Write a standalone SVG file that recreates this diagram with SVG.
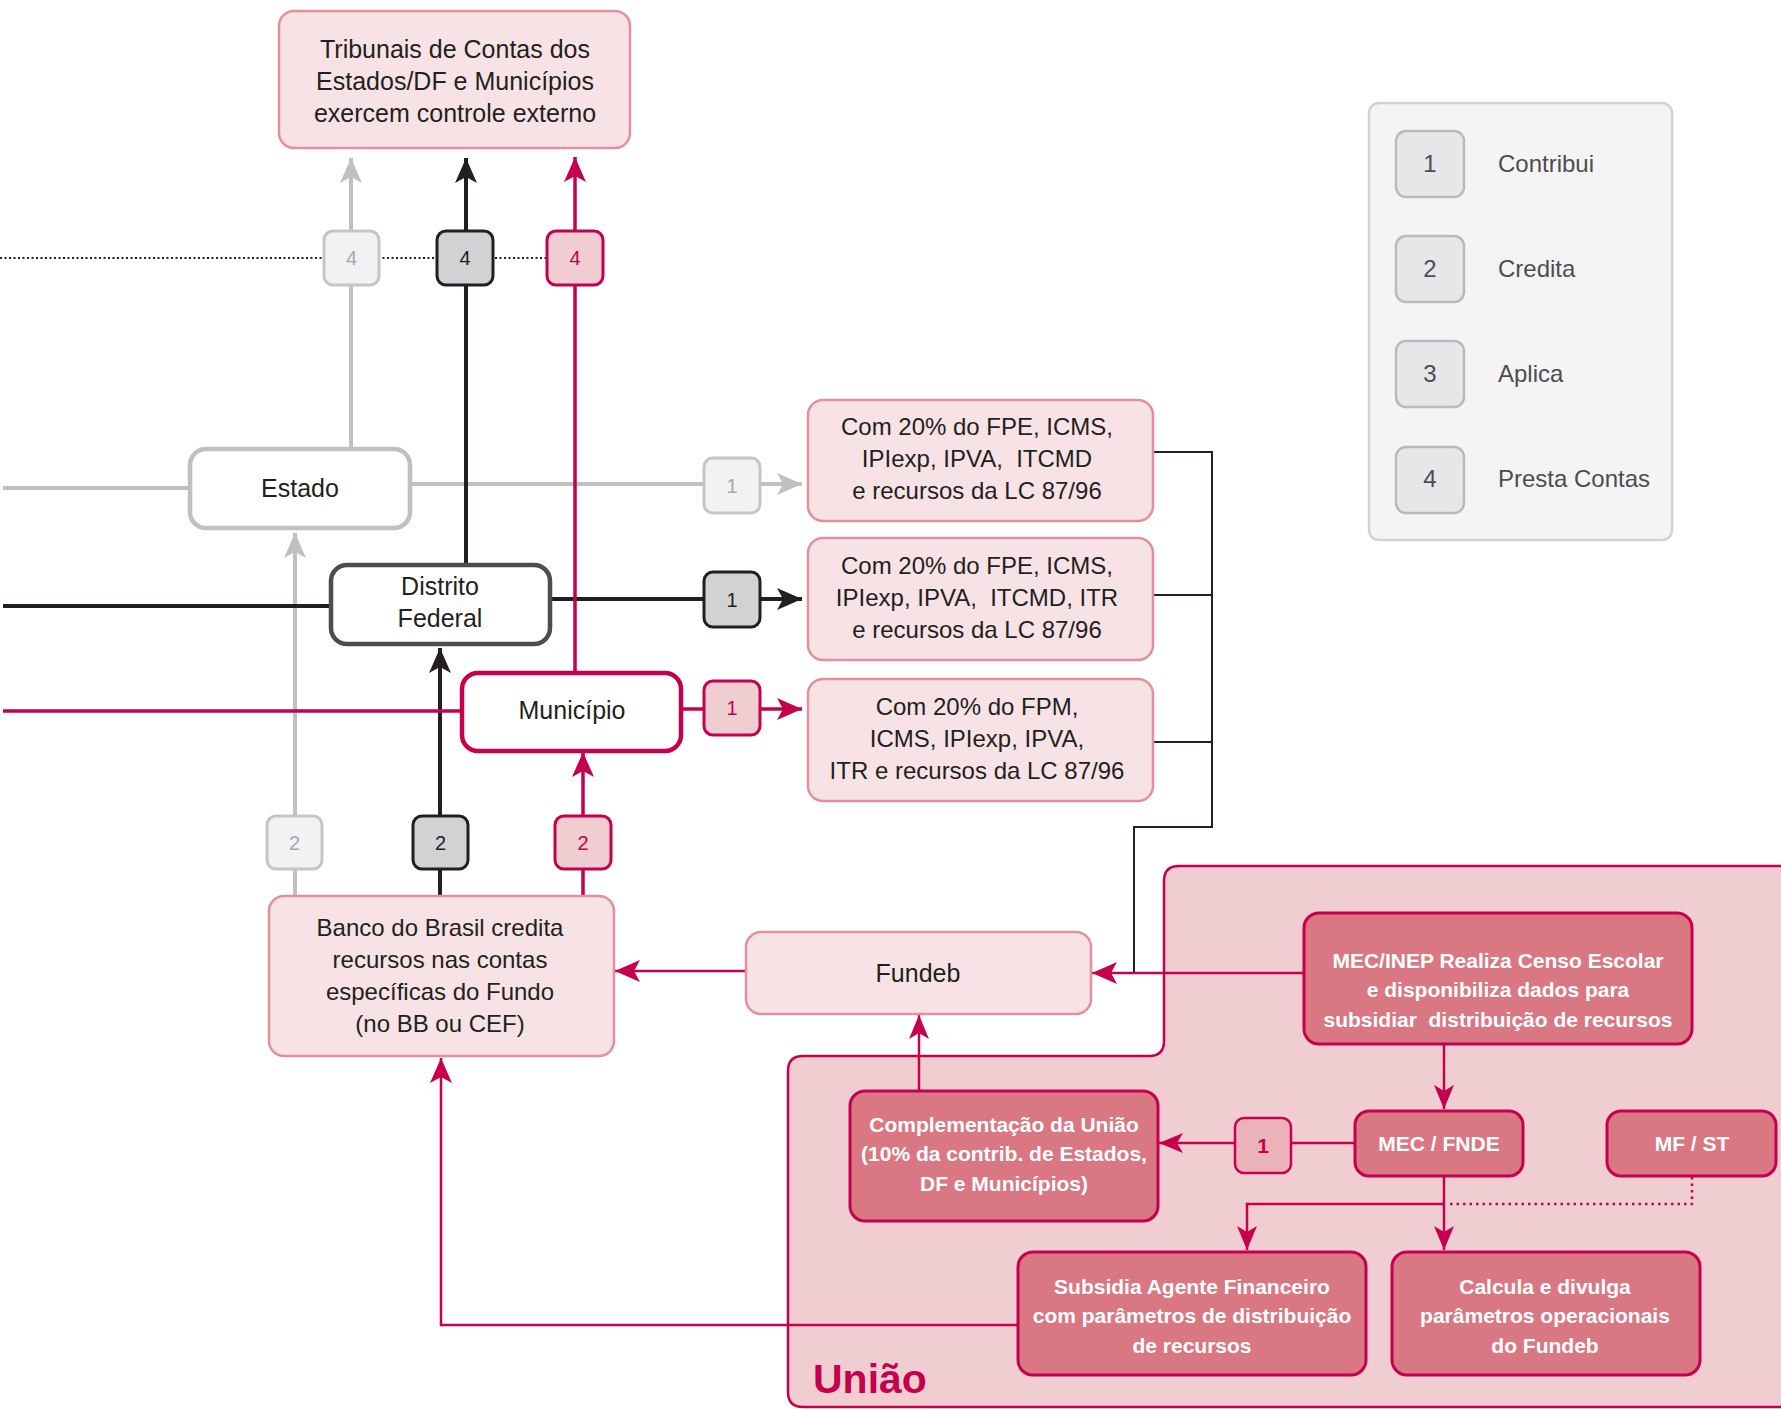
<svg xmlns="http://www.w3.org/2000/svg" width="1781" height="1409" viewBox="0 0 1781 1409">
<defs>
<style>
text{font-family:"Liberation Sans",Arial,sans-serif;white-space:pre;text-anchor:middle;fill:#231f20}
.t{font-size:24px}
.tb{font-size:25px}
.w{font-size:21px;font-weight:bold;fill:#ffffff}
.lbox{fill:#f7e3e5;stroke:#e3909a;stroke-width:2.5}
.dbox{fill:#d97783;stroke:#c5004e;stroke-width:3}
.bg{fill:#f1f2f3;stroke:#c4c5c7;stroke-width:3}
.bk{fill:#d1d2d4;stroke:#231f20;stroke-width:3}
.br{fill:#f0cdd0;stroke:#c5004e;stroke-width:3}
.ng{font-size:20px;fill:#a7a9ac}
.nk{font-size:20px;fill:#231f20}
.nr{font-size:20px;fill:#c5004e}
.lg{fill:#e6e7e9;stroke:#b9babc;stroke-width:2.5}
.lt{font-size:24px;fill:#4d4d4f}
.cg{fill:none;stroke:#bfc0c2;stroke-width:4}
.ck{fill:none;stroke:#231f20;stroke-width:4}
.cr{fill:none;stroke:#c5004e;stroke-width:3.5}
.crt{fill:none;stroke:#c5004e;stroke-width:2.5}
.thin{fill:none;stroke:#231f20;stroke-width:2}
</style>
<marker id="ag" viewBox="-26 -12 27 24" refX="0" refY="0" markerWidth="27" markerHeight="24" markerUnits="userSpaceOnUse" orient="auto"><path d="M0,0 L-25,-11 L-19,0 L-25,11 Z" fill="#bfc0c2"/></marker>
<marker id="ak" viewBox="-26 -12 27 24" refX="0" refY="0" markerWidth="27" markerHeight="24" markerUnits="userSpaceOnUse" orient="auto"><path d="M0,0 L-25,-11 L-19,0 L-25,11 Z" fill="#231f20"/></marker>
<marker id="ar" viewBox="-26 -12 27 24" refX="0" refY="0" markerWidth="27" markerHeight="24" markerUnits="userSpaceOnUse" orient="auto"><path d="M0,0 L-25,-11 L-19,0 L-25,11 Z" fill="#c5004e"/></marker>
<marker id="ar2" viewBox="-26 -12 27 24" refX="0" refY="0" markerWidth="27" markerHeight="24" markerUnits="userSpaceOnUse" orient="auto"><path d="M0,0 L-24,-10 L-18,0 L-24,10 Z" fill="#c5004e"/></marker>
</defs>

<g id="uniao">
<path d="M1179,866 H1800 V1407 H803 Q788,1407 788,1392 V1071 Q788,1056 803,1056 H1149 Q1164,1056 1164,1041 V881 Q1164,866 1179,866 Z" fill="#f0cdd0" stroke="#c5004e" stroke-width="2.5"/>
<text x="813" y="1393" style="font-size:41px;font-weight:bold;fill:#c5004e;text-anchor:start">União</text>
</g>

<g id="connectors">
<line x1="0" y1="258" x2="547" y2="258" stroke="#231f20" stroke-width="2" stroke-dasharray="2 2.5"/>
<path class="cg" d="M3,488 H190"/>
<path class="cg" d="M410,484 H802" marker-end="url(#ag)"/>
<path class="cg" d="M351,449 V158" marker-end="url(#ag)"/>
<path class="cg" d="M295,896 V533" marker-end="url(#ag)"/>
<path class="ck" d="M3,606 H331"/>
<path class="ck" d="M550,599 H802" marker-end="url(#ak)"/>
<path class="ck" d="M466,565 V158" marker-end="url(#ak)"/>
<path class="ck" d="M440,896 V648" marker-end="url(#ak)"/>
<path class="cr" d="M3,711 H462"/>
<path class="cr" d="M682,709 H802" marker-end="url(#ar)"/>
<path class="cr" d="M575,673 V157" marker-end="url(#ar)"/>
<path class="cr" d="M583,896 V752" marker-end="url(#ar)"/>
<path class="thin" d="M1153,452 H1212 V827 H1134 V973"/>
<path class="thin" d="M1153,595 H1212"/>
<path class="thin" d="M1153,742 H1212"/>
<path class="crt" d="M1304,973 H1092" marker-end="url(#ar)"/>
<path class="crt" d="M746,971 H615" marker-end="url(#ar)"/>
<path class="crt" d="M1444,1044 V1109" marker-end="url(#ar2)"/>
<path class="crt" d="M1355,1143 H1159" marker-end="url(#ar2)"/>
<path class="crt" d="M919,1091 V1015" marker-end="url(#ar2)"/>
<path class="crt" d="M1444,1176 V1250" marker-end="url(#ar2)"/>
<path class="crt" d="M1444,1204 H1247 V1250" marker-end="url(#ar2)"/>
<path d="M1692,1177 V1204 H1446" fill="none" stroke="#c5004e" stroke-width="2.5" stroke-dasharray="2.5 4"/>
<path class="crt" d="M1018,1325 H441 V1058" marker-end="url(#ar)"/>
<rect class="bg" x="324" y="231" width="55" height="54" rx="9"/><text class="ng" x="351.5" y="265">4</text>
<rect class="bk" x="437" y="231" width="56" height="54" rx="9"/><text class="nk" x="465" y="265">4</text>
<rect class="br" x="547" y="231" width="56" height="54" rx="9"/><text class="nr" x="575" y="265">4</text>
<rect class="bg" x="704" y="458" width="56" height="55" rx="9"/><text class="ng" x="732" y="493">1</text>
<rect class="bk" x="704" y="572" width="56" height="55" rx="9"/><text class="nk" x="732" y="607">1</text>
<rect class="br" x="704" y="681" width="56" height="54" rx="9"/><text class="nr" x="732" y="715">1</text>
<rect class="bg" x="267" y="816" width="55" height="53" rx="9"/><text class="ng" x="294.5" y="850">2</text>
<rect class="bk" x="413" y="816" width="55" height="53" rx="9"/><text class="nk" x="440.5" y="850">2</text>
<rect class="br" x="555" y="816" width="56" height="53" rx="9"/><text class="nr" x="583" y="850">2</text>
<rect x="1235" y="1118" width="56" height="55" rx="9" fill="#ebb3b9" stroke="#c5004e" stroke-width="2.5"/><text x="1263" y="1153" style="font-size:21px;font-weight:bold;fill:#c5004e">1</text>
</g>

<g id="tribunais">
<rect class="lbox" x="279" y="11" width="351" height="137" rx="15"/>
<text class="tb" x="455" y="58">Tribunais de Contas dos</text>
<text class="tb" x="455" y="90">Estados/DF e Municípios</text>
<text class="tb" x="455" y="122">exercem controle externo</text>
</g>

<g id="estado">
<rect x="190" y="449" width="220" height="79" rx="16" fill="#ffffff" stroke="#bfc0c2" stroke-width="4.5"/>
<text class="tb" x="300" y="497">Estado</text>
</g>

<g id="df">
<rect x="331" y="565" width="219" height="79" rx="16" fill="#ffffff" stroke="#4d4d4f" stroke-width="4.5"/>
<text class="tb" x="440" y="595">Distrito</text>
<text class="tb" x="440" y="627">Federal</text>
</g>

<g id="municipio">
<rect x="462" y="673" width="219" height="78" rx="16" fill="#ffffff" stroke="#c5004e" stroke-width="4.5"/>
<text class="tb" x="572" y="719">Município</text>
</g>

<g id="rec-estado">
<rect class="lbox" x="808" y="400" width="345" height="121" rx="15"/>
<text class="t" x="977" y="435">Com 20% do FPE, ICMS,</text>
<text class="t" x="977" y="467">IPIexp, IPVA,  ITCMD</text>
<text class="t" x="977" y="499">e recursos da LC 87/96</text>
</g>

<g id="rec-df">
<rect class="lbox" x="808" y="538" width="345" height="122" rx="15"/>
<text class="t" x="977" y="574">Com 20% do FPE, ICMS,</text>
<text class="t" x="977" y="606">IPIexp, IPVA,  ITCMD, ITR</text>
<text class="t" x="977" y="638">e recursos da LC 87/96</text>
</g>

<g id="rec-municipio">
<rect class="lbox" x="808" y="679" width="345" height="122" rx="15"/>
<text class="t" x="977" y="715">Com 20% do FPM,</text>
<text class="t" x="977" y="747">ICMS, IPIexp, IPVA,</text>
<text class="t" x="977" y="779">ITR e recursos da LC 87/96</text>
</g>

<g id="banco">
<rect class="lbox" x="269" y="896" width="345" height="160" rx="15"/>
<text class="t" x="440" y="936">Banco do Brasil credita</text>
<text class="t" x="440" y="968">recursos nas contas</text>
<text class="t" x="440" y="1000">específicas do Fundo</text>
<text class="t" x="440" y="1032">(no BB ou CEF)</text>
</g>

<g id="fundeb">
<rect class="lbox" x="746" y="932" width="345" height="82" rx="15"/>
<text class="tb" x="918" y="982">Fundeb</text>
</g>

<g id="mec-inep">
<rect class="dbox" x="1304" y="913" width="388" height="131" rx="15"/>
<text class="w" x="1498" y="968">MEC/INEP Realiza Censo Escolar</text>
<text class="w" x="1498" y="997">e disponibiliza dados para</text>
<text class="w" x="1498" y="1027">subsidiar  distribuição de recursos</text>
</g>

<g id="mec-fnde">
<rect class="dbox" x="1355" y="1111" width="168" height="65" rx="14"/>
<text class="w" x="1439" y="1151">MEC / FNDE</text>
</g>

<g id="mf-st">
<rect class="dbox" x="1607" y="1111" width="169" height="65" rx="14"/>
<text class="w" x="1692" y="1151">MF / ST</text>
</g>

<g id="complementacao">
<rect class="dbox" x="850" y="1091" width="308" height="130" rx="15"/>
<text class="w" x="1004" y="1132">Complementação da União</text>
<text class="w" x="1004" y="1161">(10% da contrib. de Estados,</text>
<text class="w" x="1004" y="1191">DF e Municípios)</text>
</g>

<g id="subsidia">
<rect class="dbox" x="1018" y="1252" width="348" height="123" rx="15"/>
<text class="w" x="1192" y="1294">Subsidia Agente Financeiro</text>
<text class="w" x="1192" y="1323">com parâmetros de distribuição</text>
<text class="w" x="1192" y="1353">de recursos</text>
</g>

<g id="calcula">
<rect class="dbox" x="1392" y="1252" width="308" height="123" rx="15"/>
<text class="w" x="1545" y="1294">Calcula e divulga</text>
<text class="w" x="1545" y="1323">parâmetros operacionais</text>
<text class="w" x="1545" y="1353">do Fundeb</text>
</g>

<g id="legenda">
<rect x="1369" y="103" width="303" height="437" rx="10" fill="#f4f4f4" stroke="#d1d2d4" stroke-width="2.5"/>
<rect class="lg" x="1396" y="131" width="68" height="66" rx="10"/><text class="lt" x="1430" y="172">1</text><text class="lt" x="1498" y="172" style="text-anchor:start">Contribui</text>
<rect class="lg" x="1396" y="236" width="68" height="66" rx="10"/><text class="lt" x="1430" y="277">2</text><text class="lt" x="1498" y="277" style="text-anchor:start">Credita</text>
<rect class="lg" x="1396" y="341" width="68" height="66" rx="10"/><text class="lt" x="1430" y="382">3</text><text class="lt" x="1498" y="382" style="text-anchor:start">Aplica</text>
<rect class="lg" x="1396" y="447" width="68" height="66" rx="10"/><text class="lt" x="1430" y="487">4</text><text class="lt" x="1498" y="487" style="text-anchor:start">Presta Contas</text>
</g>
</svg>
